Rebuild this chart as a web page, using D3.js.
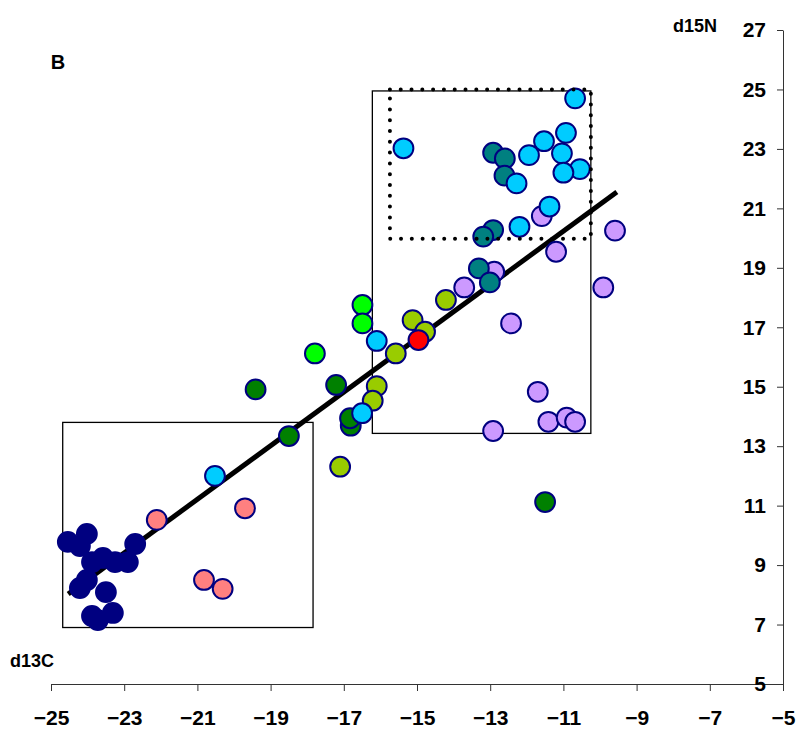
<!DOCTYPE html>
<html>
<head>
<meta charset="utf-8">
<script src="https://cdn.jsdelivr.net/npm/d3@7"></script>
<style>
  body { margin: 0; background: #fff; }
  text { font-family: "Liberation Sans", Arial, sans-serif; font-weight: bold; }
</style>
</head>
<body>
<div class="visHolder"></div>
<script>
// 横軸 d13C, 縦軸 d15N（右側）
const xTicks = [-25, -23, -21, -19, -17, -15, -13, -11, -9, -7, -5]
const yTicks = [5, 7, 9, 11, 13, 15, 17, 19, 21, 23, 25, 27]

// グループごとの点 [d13C, d15N]
const navy = [
  [-24.54, 9.78], [-24.21, 9.64], [-24.02, 10.05], [-22.70, 9.71], [-23.88, 9.10], [-23.58, 9.24],
  [-23.25, 9.10], [-22.90, 9.10], [-24.02, 8.50], [-24.21, 8.23], [-23.50, 8.09],
  [-23.88, 7.29], [-23.31, 7.39], [-23.72, 7.15]
]
const salmon = [[-22.11, 10.52], [-19.70, 10.91], [-20.82, 8.50], [-20.31, 8.20]]
const darkGreen = [[-19.41, 14.91], [-17.21, 15.06], [-18.50, 13.34], [-16.81, 13.69], [-16.83, 13.94], [-11.50, 11.12]]
const brightGreen = [[-16.49, 17.75], [-16.49, 17.13], [-17.79, 16.12]]
const yellowGreen = [[-14.21, 17.92], [-15.12, 17.24], [-14.78, 16.85], [-15.58, 16.12], [-16.10, 15.02], [-16.21, 14.53], [-17.10, 12.31]]
const lavender = [
  [-11.59, 20.74], [-11.20, 19.54], [-9.59, 20.25], [-12.89, 18.87], [-13.71, 18.34],
  [-9.91, 18.34], [-12.43, 17.13], [-11.70, 14.83], [-11.41, 13.82], [-10.91, 13.96],
  [-10.68, 13.82], [-12.92, 13.51]
]
const teal = [[-12.92, 22.87], [-12.60, 22.68], [-12.61, 22.10], [-12.92, 20.27], [-13.19, 20.05], [-13.31, 18.98], [-13.01, 18.51]]
const cyan = [
  [-20.52, 12.0], [-16.50, 14.11], [-16.10, 16.54], [-15.37, 23.02], [-10.68, 24.70],
  [-10.93, 23.54], [-11.53, 23.26], [-11.94, 22.79], [-11.04, 22.85], [-10.55, 22.32],
  [-11.00, 22.20], [-12.28, 21.84], [-11.38, 21.06], [-12.20, 20.38]
]
const red = [[-14.96, 16.57]]

// 描画順と色
const series = [
  { points: navy, fill: '#000080' },
  { points: salmon, fill: '#FF8080' },
  { points: darkGreen, fill: '#008000' },
  { points: brightGreen, fill: '#00FF00' },
  { points: yellowGreen, fill: '#99CC00' },
  { points: lavender, fill: '#CC99FF' },
  { points: teal, fill: '#008080' },
  { points: cyan, fill: '#00CCFF' },
  { points: red, fill: '#FF0000' }
]

// 回帰直線の両端
const trendX = [-24.53, -9.54]
const trendY = [8.03, 21.55]

// 枠 [x0, x1, y0, y1]
const solidBoxes = [[-24.68, -17.84, 6.9, 13.8], [-16.22, -10.25, 13.43, 24.95]]
const dottedBox = [-15.74, -10.25, 19.98, 25.0]

const width = 798
const height = 732

const svg = d3.select('.visHolder').append('svg')
  .attr('width', width)
  .attr('height', height)

const xScale = d3.scaleLinear().domain([-25, -5]).range([51, 783])
const yScale = d3.scaleLinear().domain([5, 27]).range([684, 30])

// x軸（下）
const xAxis = d3.axisBottom(xScale)
  .tickValues(xTicks)
  .tickSize(7)
  .tickSizeOuter(0)
  .tickPadding(19)
  .tickFormat(d3.format('d'))

svg.append('g')
  .attr('transform', 'translate(0, 684)')
  .call(xAxis)
  .call(g => g.selectAll('text').attr('font-size', 21).attr('fill', '#000'))
  .call(g => g.selectAll('line, path').attr('stroke', '#333'))

// y軸（右端、目盛りは左向き）
const yAxis = d3.axisLeft(yScale)
  .tickValues(yTicks)
  .tickSize(6)
  .tickSizeOuter(0)
  .tickPadding(11)
  .tickFormat(d3.format('d'))

svg.append('g')
  .attr('transform', 'translate(783, 0)')
  .call(yAxis)
  .call(g => g.selectAll('text').attr('font-size', 21).attr('fill', '#000'))
  .call(g => g.selectAll('line, path').attr('stroke', '#333'))

// 枠
svg.append('g')
  .selectAll('rect')
  .data(solidBoxes)
  .enter()
  .append('rect')
  .attr('x', d => xScale(d[0]))
  .attr('y', d => yScale(d[3]))
  .attr('width', d => xScale(d[1]) - xScale(d[0]))
  .attr('height', d => yScale(d[2]) - yScale(d[3]))
  .attr('fill', 'none')
  .attr('stroke', '#000')
  .attr('stroke-width', 1.3)

// 回帰直線
svg.append('line')
  .attr('x1', xScale(trendX[0]))
  .attr('y1', yScale(trendY[0]))
  .attr('x2', xScale(trendX[1]))
  .attr('y2', yScale(trendY[1]))
  .attr('stroke', '#000')
  .attr('stroke-width', 5)

// 点
series.forEach(s => {
  svg.append('g')
    .selectAll('circle')
    .data(s.points)
    .enter()
    .append('circle')
    .attr('cx', d => xScale(d[0]))
    .attr('cy', d => yScale(d[1]))
    .attr('r', 9.9)
    .attr('fill', s.fill)
    .attr('stroke', '#000080')
    .attr('stroke-width', 2)
})

// 点線の枠
svg.append('rect')
  .attr('x', xScale(dottedBox[0]))
  .attr('y', yScale(dottedBox[3]))
  .attr('width', xScale(dottedBox[1]) - xScale(dottedBox[0]))
  .attr('height', yScale(dottedBox[2]) - yScale(dottedBox[3]))
  .attr('fill', 'none')
  .attr('stroke', '#000')
  .attr('stroke-width', 4)
  .attr('stroke-linecap', 'round')
  .attr('stroke-dasharray', '0 10.8')

// ラベル
svg.append('text').attr('x', 58).attr('y', 69).attr('text-anchor', 'middle').attr('font-size', 20).text('B')
svg.append('text').attr('x', 10).attr('y', 667).attr('font-size', 18).text('d13C')
svg.append('text').attr('x', 717).attr('y', 32).attr('text-anchor', 'end').attr('font-size', 18).text('d15N')
</script>
</body>
</html>
